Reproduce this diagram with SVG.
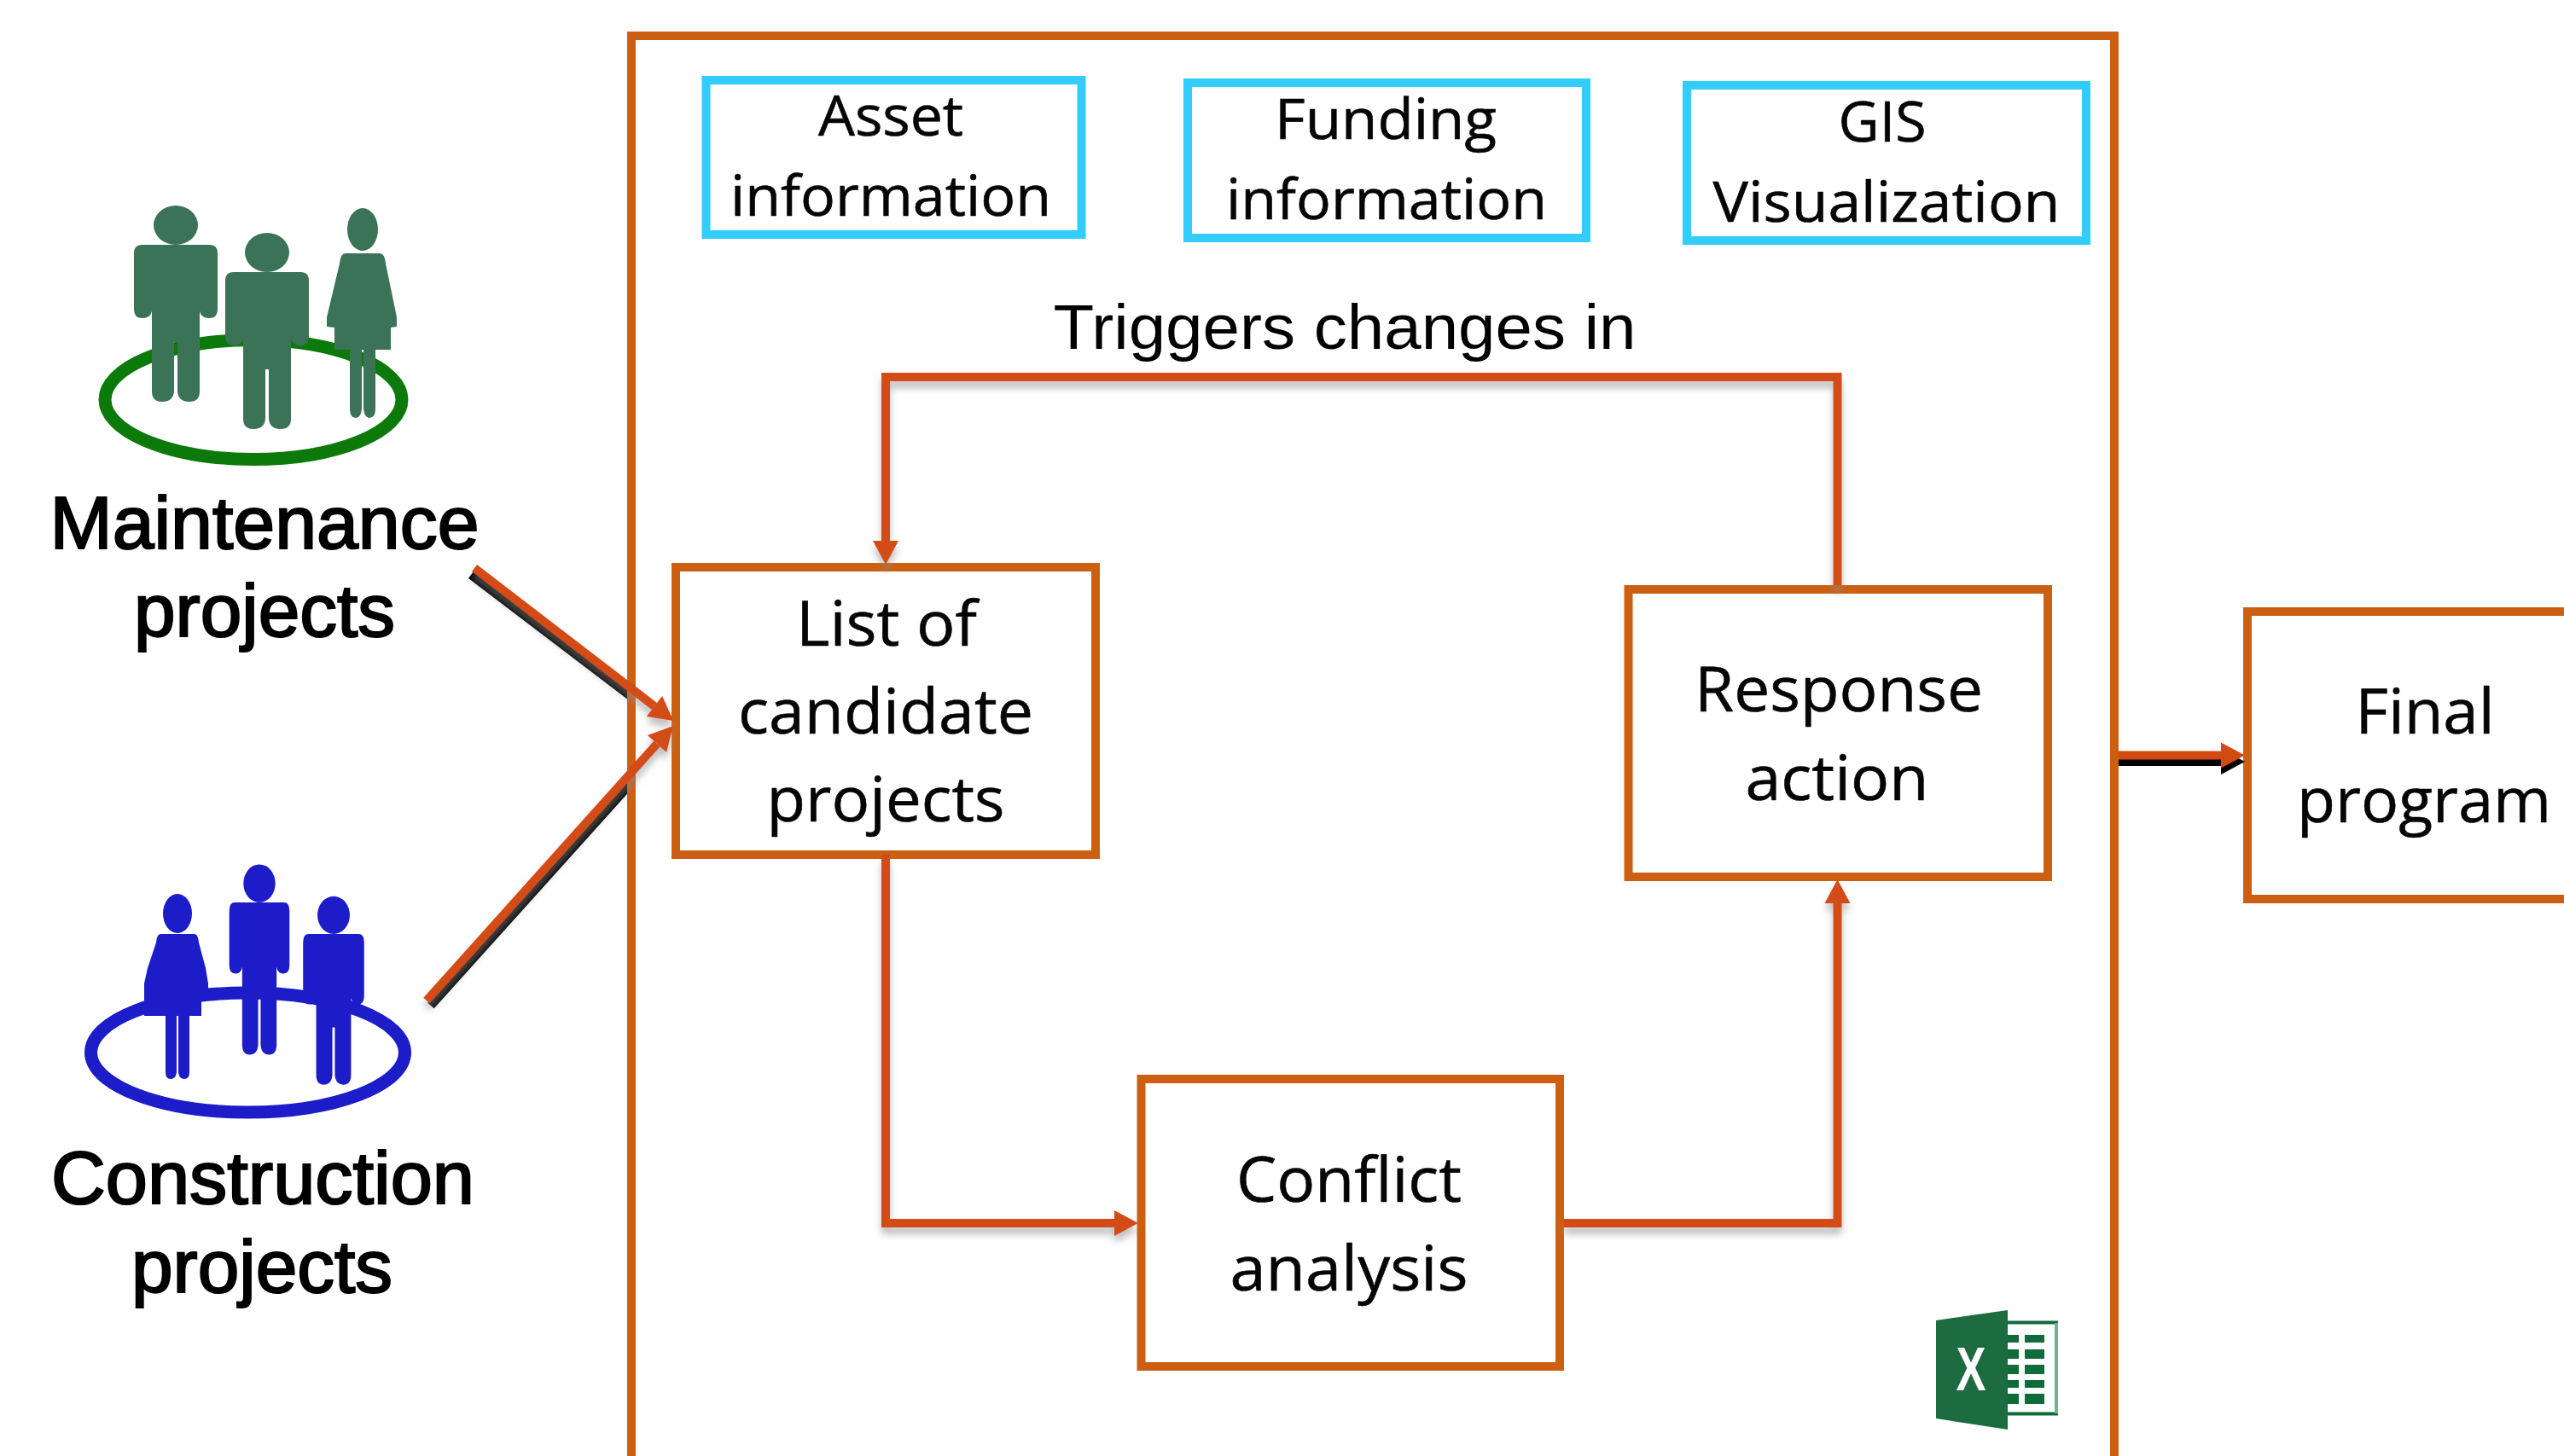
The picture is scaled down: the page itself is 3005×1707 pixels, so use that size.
<svg xmlns="http://www.w3.org/2000/svg" xmlns:xlink="http://www.w3.org/1999/xlink" width="3005" height="1707" viewBox="0 0 3005 1707">
<style>
.box{fill:#fff;stroke:#cc5f12;stroke-width:10}
.info{fill:#fff;stroke:#33ccff;stroke-width:10}
.t{font-family:"Open Sans","Liberation Sans",sans-serif;fill:#050505;stroke:#050505;stroke-width:0.6;text-anchor:middle}
.l{font-size:74px}
.s{font-size:66px}
.a{font-family:"Liberation Sans",Arial,sans-serif;fill:#000;text-anchor:middle}
.h{font-size:87px;stroke:#000;stroke-width:2.2}
.c{fill:none;stroke:#d34b12;stroke-width:10}
.k{fill:none;stroke:#000;stroke-width:10}
.cell{fill:#0f6b3a}
</style>
<defs>
<marker id="head" markerUnits="userSpaceOnUse" markerWidth="30" markerHeight="32" refX="0" refY="16" orient="auto" overflow="visible"><path d="M0,1L28,16L0,31Z" fill="#d34b12"/></marker>
<marker id="headk" markerUnits="userSpaceOnUse" markerWidth="30" markerHeight="32" refX="0" refY="16" orient="auto" overflow="visible"><path d="M0,1L28,16L0,31Z" fill="#000"/></marker>
<filter id="soft" filterUnits="userSpaceOnUse" x="0" y="0" width="3005" height="1707"><feDropShadow dx="0" dy="8" stdDeviation="4" flood-color="#8a8a8a" flood-opacity="0.55"/></filter>
<clipPath id="outside"><rect x="0" y="0" width="735" height="1707"/></clipPath>
<g id="man"><ellipse cx="0" cy="-23" rx="26" ry="23"/><path d="M-40,0H40Q49,0 49,10V76Q49,86 39,86Q30,86 28,78V172Q28,184 16,184Q3,184 2,172V114H-2V172Q-3,184 -16,184Q-28,184 -28,172V78Q-30,86 -39,86Q-49,86 -49,76V10Q-49,0 -40,0Z"/></g>
</defs>
<rect width="3005" height="1707" fill="#fff"/>

<g id="container"><rect class="box" x="740" y="42" width="1738" height="1800"/></g>

<g id="asset-information"><rect class="info" x="827.5" y="94" width="440" height="181"/>
<text class="t s" x="1044" y="159" textLength="170" lengthAdjust="spacingAndGlyphs">Asset</text>
<text class="t s" x="1044" y="253" textLength="376" lengthAdjust="spacingAndGlyphs">information</text></g>
<g id="funding-information"><rect class="info" x="1392" y="97" width="467" height="182"/>
<text class="t s" x="1624" y="163" textLength="260" lengthAdjust="spacingAndGlyphs">Funding</text>
<text class="t s" x="1625" y="257" textLength="376" lengthAdjust="spacingAndGlyphs">information</text></g>
<g id="gis-visualization"><rect class="info" x="1977" y="100" width="468" height="182"/>
<text class="t s" x="2206" y="166" textLength="103" lengthAdjust="spacingAndGlyphs">GIS</text>
<text class="t s" x="2211" y="260" textLength="407" lengthAdjust="spacingAndGlyphs">Visualization</text></g>

<g id="list-of-candidate-projects"><rect class="box" x="792" y="665" width="492" height="337"/>
<text class="t l" x="1039" y="757" textLength="212" lengthAdjust="spacingAndGlyphs">List of</text>
<text class="t l" x="1038" y="860" textLength="346" lengthAdjust="spacingAndGlyphs">candidate</text>
<text class="t l" x="1038" y="963" textLength="279" lengthAdjust="spacingAndGlyphs">projects</text></g>
<g id="response-action"><rect class="box" x="1908.5" y="691" width="491.5" height="337"/>
<text class="t l" x="2155" y="834" textLength="338" lengthAdjust="spacingAndGlyphs">Response</text>
<text class="t l" x="2153" y="938" textLength="215" lengthAdjust="spacingAndGlyphs">action</text></g>
<g id="conflict-analysis"><rect class="box" x="1337.5" y="1265" width="490.5" height="337"/>
<text class="t l" x="1581" y="1409" textLength="264" lengthAdjust="spacingAndGlyphs">Conflict</text>
<text class="t l" x="1581" y="1513" textLength="279" lengthAdjust="spacingAndGlyphs">analysis</text></g>
<g id="final-program"><rect class="box" x="2634" y="717" width="420" height="337"/>
<text class="t l" x="2842" y="860" textLength="163" lengthAdjust="spacingAndGlyphs">Final</text>
<text class="t l" x="2841" y="964" textLength="298" lengthAdjust="spacingAndGlyphs">program</text></g>

<g id="connectors">
<g clip-path="url(#outside)">
<path class="k" d="M552,674L765,836"/>
<path class="k" d="M505,1179L774,880"/>
</g>
<path class="k" d="M2483,893H2603" marker-end="url(#headk)"/>
<g filter="url(#soft)">
<path class="c" d="M2153.5,686V442H1038V634" marker-end="url(#head)"/>
<path class="c" d="M1038,1002V1434H1306" marker-end="url(#head)"/>
<path class="c" d="M1833,1434H2153.5V1059" marker-end="url(#head)"/>
<path class="c" d="M556,666L767,828" marker-end="url(#head)"/>
<path class="c" d="M500,1173L770,872" marker-end="url(#head)"/>
</g>
<path class="c" d="M2483,885.500H2603" marker-end="url(#head)"/>
</g>

<g id="maintenance-projects">
<ellipse cx="297" cy="468.500" rx="174" ry="70" fill="none" stroke="#0b7a0b" stroke-width="15"/>
<g fill="#3a7356">
<use xlink:href="#man" href="#man" transform="translate(206,287)"/>
<use xlink:href="#man" href="#man" transform="translate(313,319)"/>
<g transform="translate(425,297)"><ellipse cx="0" cy="-28" rx="18" ry="25"/><path d="M-20,0H20Q26,0 27,12L40,75V86L33,87V113H15V182Q15,193 8,193Q2,193 1,182V113H-1V182Q-2,193 -8,193Q-15,193 -15,182V113H-33V87L-42,86V75L-27,12Q-26,0 -20,0Z"/></g>
</g>
<text class="a h" x="310" y="643" textLength="503" lengthAdjust="spacingAndGlyphs">Maintenance</text>
<text class="a h" x="310" y="746" textLength="306" lengthAdjust="spacingAndGlyphs">projects</text>
</g>

<g id="construction-projects">
<ellipse cx="290.500" cy="1234" rx="184" ry="70" fill="none" stroke="#1c1cc8" stroke-width="15"/>
<g fill="#1c1cc8">
<g transform="translate(208,1095)"><ellipse cx="0" cy="-24" rx="17" ry="23"/><path d="M-20,0H20Q24,0 25,10L33,40L36,58V70H28V96H14V162Q14,170 8,170Q2,170 1,162V96H-1V162Q-2,170 -8,170Q-14,170 -14,162V96H-39V58L-35,40L-25,10Q-24,0 -20,0Z"/></g>
<use xlink:href="#man" href="#man" transform="translate(304,1058) scale(0.72,0.97)"/>
<use xlink:href="#man" href="#man" transform="translate(391,1095) scale(0.73,0.96)"/>
</g>
<text class="a h" x="308" y="1411" textLength="496" lengthAdjust="spacingAndGlyphs">Construction</text>
<text class="a h" x="307" y="1515" textLength="306" lengthAdjust="spacingAndGlyphs">projects</text>
</g>

<g id="excel-icon">
<rect x="2340" y="1550.500" width="70" height="107" fill="#fff" stroke="#0f6b3a" stroke-width="4"/>
<path d="M2410,1551V1657" stroke="#7faa93" stroke-width="4" fill="none"/>
<rect class="cell" x="2353" y="1565" width="13" height="9"/><rect class="cell" x="2373" y="1565" width="23" height="9"/>
<rect class="cell" x="2353" y="1582" width="13" height="11"/><rect class="cell" x="2373" y="1582" width="23" height="11"/>
<rect class="cell" x="2353" y="1600" width="13" height="11"/><rect class="cell" x="2373" y="1600" width="23" height="11"/>
<rect class="cell" x="2353" y="1618" width="13" height="9"/><rect class="cell" x="2373" y="1618" width="23" height="9"/>
<rect class="cell" x="2353" y="1634" width="13" height="12"/><rect class="cell" x="2373" y="1634" width="23" height="12"/>
<path d="M2269,1548L2353,1536V1676L2269,1663Z" fill="#1d6b41"/>
<text x="2310" y="1630" font-family="Liberation Sans, Arial, sans-serif" font-weight="bold" font-size="72" fill="#fff" text-anchor="middle" textLength="35" lengthAdjust="spacingAndGlyphs">X</text>
</g>

<g id="triggers-label"><text class="a" x="1576" y="409" font-size="75" textLength="683" lengthAdjust="spacingAndGlyphs">Triggers changes in</text></g>
</svg>
